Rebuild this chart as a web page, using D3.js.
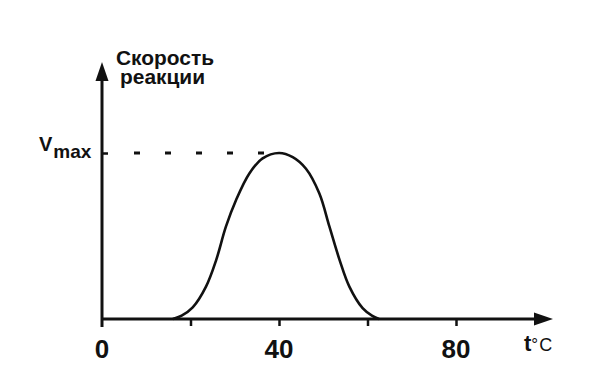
<!DOCTYPE html>
<html><head><meta charset="utf-8">
<script src="https://cdn.jsdelivr.net/npm/d3@7"></script>
<style>
html,body{margin:0;padding:0;background:#fff;}
text{font-family:"Liberation Sans",Arial,sans-serif;fill:#111;}
</style></head>
<body>
<svg id="chart" width="590" height="384"></svg>
<script>
// Temperature (°C) and relative reaction rate (fraction of Vmax)
const temps = [16, 18, 20.5, 23.5, 25.8, 28.0, 30.3, 33.3, 36.3, 40, 43.1, 46.1, 49.1, 51.4, 53.7, 55.9, 58.9, 61, 62.6];
const rates = [0, 0.02, 0.07, 0.195, 0.355, 0.556, 0.717, 0.877, 0.968, 1.0, 0.975, 0.905, 0.757, 0.556, 0.355, 0.195, 0.065, 0.02, 0];
const xTicks = [0, 20, 40, 60, 80];
const xTickLabels = ["0", "", "40", "", "80"];
const yAxisTitle = ["Скорость", "реакции"];
const vmaxValue = 1;
const xAxisTitle = "t";

const svg = d3.select("#chart");
const x = d3.scaleLinear().domain([0, 80]).range([102, 456]);
const y = d3.scaleLinear().domain([0, 1]).range([319, 153]);
const ink = "#111";

// x axis ticks (below axis line)
const xAxis = d3.axisBottom(x).tickValues(xTicks.slice(1)).tickSize(7).tickFormat("");
const gx = svg.append("g").attr("transform", `translate(0,${y(0)})`).call(xAxis);
gx.select(".domain").remove();
gx.selectAll(".tick line").attr("stroke", ink).attr("stroke-width", 2.5);

// x axis tick labels
svg.selectAll(".xl").data(xTicks.map((t, i) => ({t, l: xTickLabels[i]})).filter(d => d.l))
  .enter().append("text").attr("class", "xl")
  .attr("x", d => x(d.t)).attr("y", 358).attr("text-anchor", "middle")
  .attr("font-size", 26).attr("font-weight", "bold").text(d => d.l);

// y axis tick at Vmax (to the right)
const yAxis = d3.axisRight(y).tickValues([vmaxValue]).tickSize(6).tickFormat("");
const gy = svg.append("g").attr("transform", `translate(${x(0)},0)`).call(yAxis);
gy.select(".domain").remove();
gy.selectAll(".tick line").attr("stroke", ink).attr("stroke-width", 2.5);

// axis lines
const xEnd = 553, yTop = 62;
svg.append("line").attr("x1", x(0)).attr("x2", xEnd - 14).attr("y1", y(0)).attr("y2", y(0))
  .attr("stroke", ink).attr("stroke-width", 3);
svg.append("line").attr("x1", x(0)).attr("x2", x(0)).attr("y1", y(0) + 8).attr("y2", yTop + 14)
  .attr("stroke", ink).attr("stroke-width", 3);
// arrowheads
svg.append("path").attr("d", `M${xEnd},${y(0)} L${xEnd - 19},${y(0) - 6.5} L${xEnd - 19},${y(0) + 6.5} Z`).attr("fill", ink);
svg.append("path").attr("d", `M${x(0)},${yTop} L${x(0) - 6.5},${yTop + 19} L${x(0) + 6.5},${yTop + 19} Z`).attr("fill", ink);

// dashed Vmax guide
svg.append("line").attr("x1", 134).attr("x2", 266).attr("y1", y(vmaxValue)).attr("y2", y(vmaxValue))
  .attr("stroke", ink).attr("stroke-width", 3).attr("stroke-dasharray", "6,25");

// curve
const line = d3.line().x((d, i) => x(temps[i])).y(d => y(d)).curve(d3.curveCatmullRom.alpha(0.5));
svg.append("path").attr("d", line(rates)).attr("fill", "none").attr("stroke", ink).attr("stroke-width", 2.6);

// Vmax label
const vt = svg.append("text").attr("x", 39).attr("y", 151).attr("font-weight", "bold").attr("font-size", 20);
vt.append("tspan").text("V");
vt.append("tspan").attr("dy", 7).attr("dx", 1).attr("font-size", 19).text("max");

// y axis title
svg.append("text").attr("x", 116).attr("y", 65).attr("font-size", 20).attr("font-weight", "bold")
  .attr("textLength", 98).attr("lengthAdjust", "spacingAndGlyphs").text(yAxisTitle[0]);
svg.append("text").attr("x", 120).attr("y", 84).attr("font-size", 20).attr("font-weight", "bold")
  .attr("textLength", 85).attr("lengthAdjust", "spacingAndGlyphs").text(yAxisTitle[1]);

// x axis title t°C
const tt = svg.append("text").attr("x", 524).attr("y", 351);
tt.append("tspan").attr("font-size", 22).attr("font-weight", "bold").text(xAxisTitle);
tt.append("tspan").attr("font-size", 17).attr("dy", -1).text("°");
tt.append("tspan").attr("font-size", 18).attr("dy", 1).attr("dx", 1).text("C");
</script>
</body></html>
